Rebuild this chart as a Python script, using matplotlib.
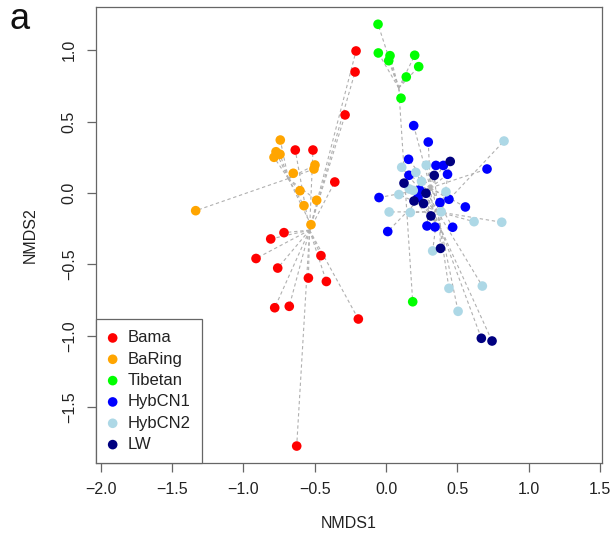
import numpy as np
import matplotlib
matplotlib.use("Agg")
import matplotlib.pyplot as plt

plt.rcParams["font.family"] = ["Liberation Sans", "DejaVu Sans"]

# NMDS scores, one pair of arrays per group
groups = ["Bama", "BaRing", "Tibetan", "HybCN1", "HybCN2", "LW"]
colors = ["#FF0000", "#FFA500", "#00FF00", "#0000FF", "#ADD8E6", "#000080"]

bama_x = [-0.210, -0.217, -0.287, -0.636, -0.512, -0.359, -0.715, -0.808, -0.456,
          -0.911, -0.759, -0.544, -0.418, -0.780, -0.678, -0.194, -0.626]
bama_y = [0.995, 0.848, 0.547, 0.301, 0.301, 0.077, -0.278, -0.322, -0.439,
          -0.459, -0.526, -0.596, -0.620, -0.804, -0.794, -0.883, -1.773]

baring_x = [-0.741, -0.771, -0.743, -0.785, -0.498, -0.505, -0.650, -0.603,
            -0.486, -0.575, -0.526, -1.334]
baring_y = [0.371, 0.289, 0.271, 0.250, 0.196, 0.168, 0.138, 0.016,
            -0.051, -0.089, -0.222, -0.124]

tibetan_x = [-0.056, -0.054, 0.028, 0.019, 0.201, 0.229, 0.142, 0.105, 0.187]
tibetan_y = [1.182, 0.981, 0.962, 0.927, 0.965, 0.885, 0.813, 0.664, -0.762]

hyb1_x = [0.194, 0.296, 0.158, 0.350, 0.402, 0.431, 0.708, 0.161, 0.235,
          -0.049, 0.224, 0.378, 0.441, 0.556, 0.287, 0.343, 0.467, 0.012]
hyb1_y = [0.472, 0.357, 0.236, 0.193, 0.193, 0.131, 0.168, 0.124, 0.021,
          -0.032, -0.032, -0.067, -0.044, -0.098, -0.231, -0.238, -0.240, -0.270]

hyb2_x = [0.827, 0.110, 0.282, 0.209, 0.249, 0.090, 0.163, 0.191, 0.420,
          0.022, 0.170, 0.387, 0.617, 0.811, 0.327, 0.441, 0.675, 0.505]
hyb2_y = [0.364, 0.180, 0.195, 0.144, 0.081, -0.011, 0.028, 0.018, 0.008,
          -0.133, -0.137, -0.132, -0.201, -0.205, -0.406, -0.668, -0.652, -0.829]

lw_x = [0.450, 0.338, 0.126, 0.280, 0.196, 0.263, 0.315, 0.382, 0.668, 0.743]
lw_y = [0.221, 0.123, 0.069, -0.002, -0.056, -0.074, -0.161, -0.388, -1.018, -1.037]

xs = [bama_x, baring_x, tibetan_x, hyb1_x, hyb2_x, lw_x]
ys = [bama_y, baring_y, tibetan_y, hyb1_y, hyb2_y, lw_y]

fig = plt.figure(figsize=(6.13, 5.36), dpi=100)
ax = fig.add_axes([0.1558, 0.1356, 0.8268, 0.8508])

# spider lines from each group centroid
for gx, gy in zip(xs, ys):
    cx, cy = np.mean(gx), np.mean(gy)
    for px, py in zip(gx, gy):
        ax.plot([cx, px], [cy, py], color="#b0b0b0", lw=0.8,
                ls=(0, (3, 2.5)), zorder=1)

for gx, gy, name, c in zip(xs, ys, groups, colors):
    ax.scatter(gx, gy, s=48, color=c, edgecolors="none", label=name, zorder=2)

ax.set_xlim(-2.036, 1.516)
ax.set_ylim(-1.894, 1.301)
ax.set_xticks(np.arange(-2.0, 1.51, 0.5))
ax.set_yticks(np.arange(-1.5, 1.01, 0.5))
ax.set_xticklabels([f"{v:.1f}".replace("-", "\u2212") for v in np.arange(-2.0, 1.51, 0.5)])
ax.set_yticklabels([f"{v:.1f}".replace("-", "\u2212") for v in np.arange(-1.5, 1.01, 0.5)],
                   rotation=90, va="center")

for s in ax.spines.values():
    s.set_color("#666666")
    s.set_linewidth(0.9)
ax.tick_params(length=6.5, width=0.9, color="#666666", labelsize=11.5,
               labelcolor="#222222", pad=7)

ax.set_xlabel("NMDS1", fontsize=11.5, color="#222222")
ax.set_ylabel("NMDS2", fontsize=11.5, color="#222222")
ax.xaxis.set_label_coords(0.5, -0.116)
ax.yaxis.set_label_coords(-0.113, 0.5)

leg = ax.legend(loc="lower left", bbox_to_anchor=(0, 0), borderaxespad=0,
                fancybox=False, framealpha=1, edgecolor="#666666",
                fontsize=12, handlelength=0.7, handletextpad=0.55,
                labelspacing=0.38, borderpad=0.68, scatterpoints=1)
leg.get_frame().set_linewidth(0.9)
for t in leg.get_texts():
    t.set_color("#222222")

fig.text(0.016, 0.946, "a", fontsize=26, color="#111111", va="baseline")

fig.savefig("out.png", dpi=100)
